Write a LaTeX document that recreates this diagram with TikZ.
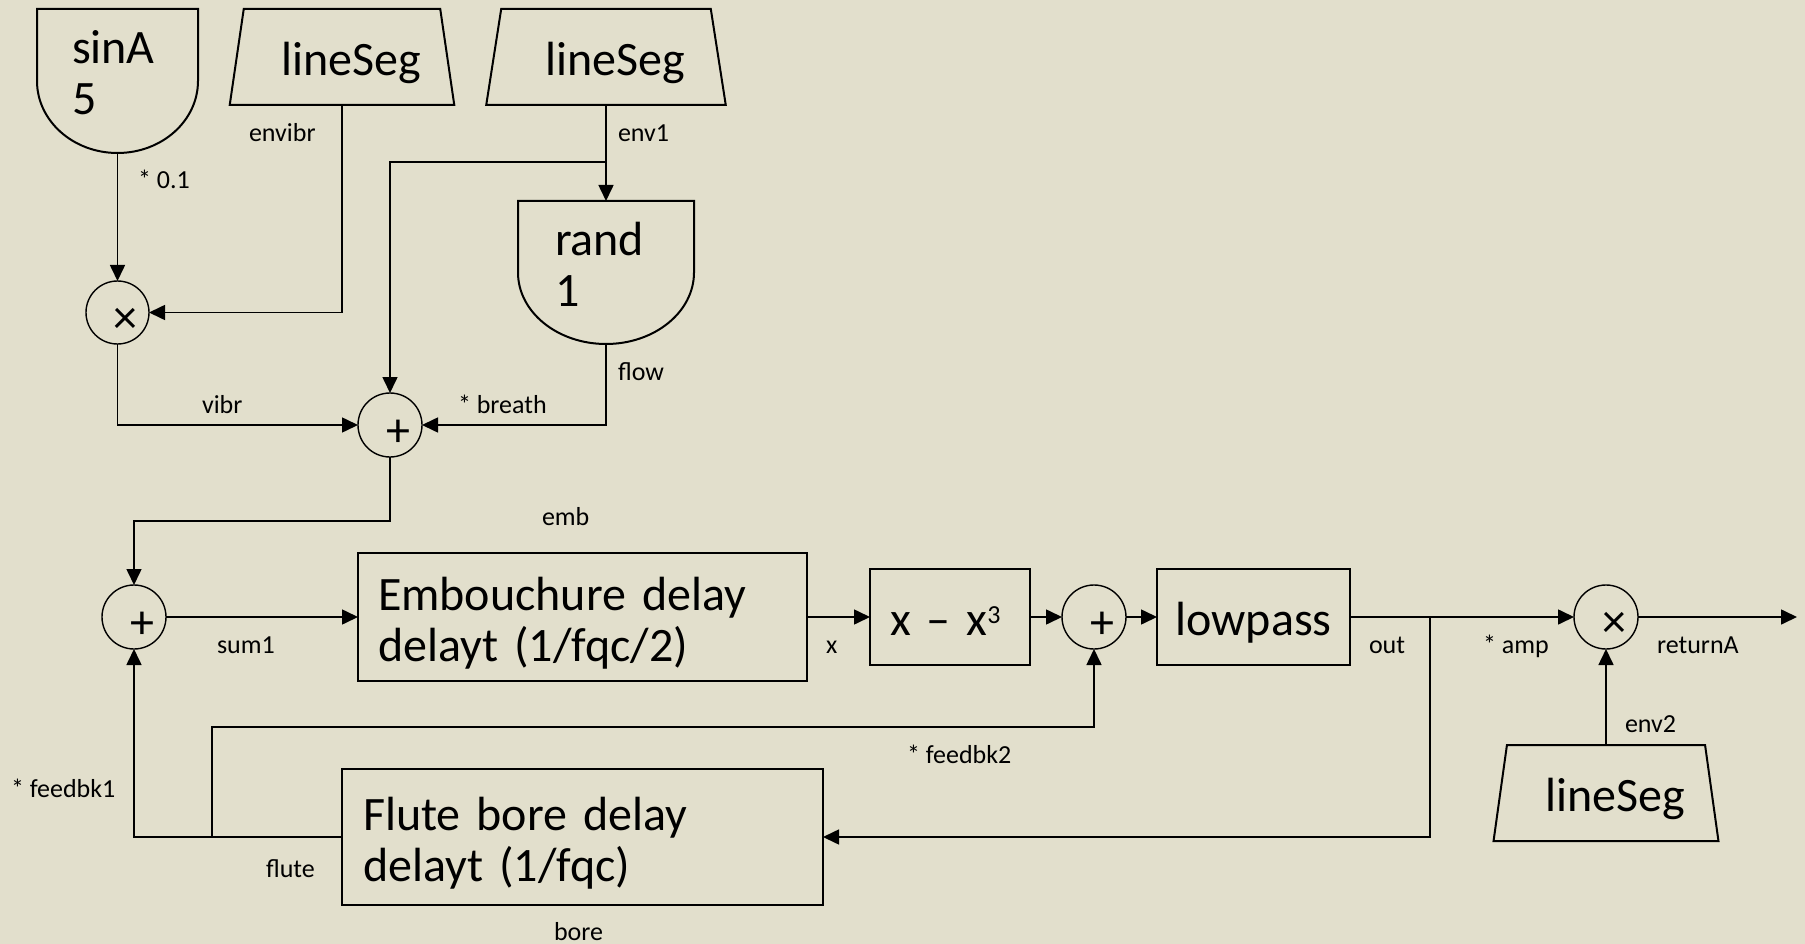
\documentclass[tikz,border=0pt]{standalone}
\usepackage{fontspec}
\setmainfont{Carlito}
\usetikzlibrary{shapes.geometric,arrows.meta,calc}
\definecolor{paper}{RGB}{226,223,204}

\begin{document}
\begin{tikzpicture}[
    x=1pt, y=-1pt,
    every node/.style={font=\fontsize{26}{30}\selectfont, inner sep=0pt, outer sep=0pt},
    big/.style={font=\fontsize{48}{51}\selectfont},
    lbl/.style={anchor=base west},
    plain/.style={line width=1.6pt},
    wire/.style={line width=1.6pt, -{Triangle[length=16pt,width=15pt]}},
    rim/.style={line width=2pt},
    dbox/.style={big, rectangle, align=left, text height=0pt, text depth=34pt},
    seg/.style={big, trapezium, draw, line width=2pt, trapezium stretches=true,
        trapezium left angle=73.5, trapezium right angle=73.5,
        minimum width=225pt, minimum height=96pt, text height=38pt, text depth=0pt,
        execute at begin node=\hspace*{18pt}},
    proc/.style={big, rectangle, draw, line width=2pt},
    op/.style={circle, draw, line width=1.4pt, minimum size=64pt},
    opsym/.style={big, xshift=8pt, yshift=-8pt},
    sumop/.style={op, label={[opsym]center:+}},
    mulop/.style={op, label={[opsym]center:×}}
]
\useasboundingbox (0,0) rectangle (1805,944);
\fill[paper] (0,0) rectangle (1805,944);

% sources
\node[dbox, minimum width=161pt, minimum height=144pt, text width=91pt, inner xsep=35pt] (sinA) at (117.5,81) {sinA\\5};
\draw[rim] (sinA.north west) -- (sinA.west) arc[start angle=180, end angle=360, x radius=80.5pt, y radius=72pt] -- (sinA.north east) -- cycle;
\node[seg] (segvib) at (342,57) {lineSeg};
\node[seg, minimum width=240pt] (segenv) at (606,57) {lineSeg};
\node[dbox, minimum width=176pt, minimum height=143pt, text width=102pt, inner xsep=37pt, text depth=33pt] (rand) at (606,272.5) {rand\\1};
\draw[rim] (rand.north west) -- (rand.west) arc[start angle=180, end angle=360, x radius=88pt, y radius=71.5pt] -- (rand.north east) -- cycle;

\node[mulop, minimum size=63pt] (mulvib) at (117.5,312.5) {};
\node[sumop] (sumemb) at (390,425) {};
\node[sumop] (sumin) at (134,617) {};

% main chain
\node[proc, minimum width=449pt, minimum height=128pt, text width=409pt, inner xsep=20pt, align=left, text height=0pt, text depth=14pt] (emb) at (582.5,617) {Embouchure delay\\delayt (1/fqc/2)};
\node[proc, minimum width=160pt, minimum height=96pt, text width=120pt, inner xsep=20pt, align=left, text height=36pt, text depth=0pt] (cube) at (950,617) {x – x\raisebox{12pt}{\fontsize{26}{26}\selectfont 3}};
\node[sumop] (sumfb) at (1094,617) {};
\node[proc, minimum width=193pt, minimum height=96pt, text height=36pt, text depth=0pt] (lowpass) at (1253.5,617) {lowpass};
\node[mulop] (mulamp) at (1606,617) {};
\node[seg, text height=36pt] (segamp) at (1606,793) {lineSeg};
\node[proc, minimum width=481pt, minimum height=136pt, text width=439pt, inner xsep=21pt, align=left, text height=0pt, text depth=14pt] (bore) at (582.5,837) {Flute bore delay\\delayt (1/fqc)};

\coordinate (envtap) at (606,162);
\coordinate (outtap) at (1430,617);
\coordinate (flutetap) at (212,837);
\coordinate (result) at (1797,617);

\draw[wire] (sinA.south) -- (mulvib.north);
\draw[wire] (segvib.south) |- (mulvib.east);
\draw[wire] (segenv.south) -- (rand.north);
\draw[wire] (envtap) -| (sumemb.north);
\draw[wire] (mulvib.south) |- (sumemb.west);
\draw[wire] (rand.south) |- (sumemb.east);
\draw[wire] (sumemb.south) -- ++(0,64) -| (sumin.north);
\draw[wire] (sumin.east) -- (emb.west);
\draw[wire] (emb.east) -- (cube.west);
\draw[wire] (cube.east) -- (sumfb.west);
\draw[wire] (sumfb.east) -- (lowpass.west);
\draw[wire] (lowpass.east) -- (mulamp.west);
\draw[wire] (mulamp.east) -- (result);
\draw[wire] (segamp.north) -- (mulamp.south);
\draw[wire] (outtap) |- (bore.east);
\draw[wire] (bore.west) -| (sumin.south);
\draw[wire] (flutetap) -- ++(0,-110) -| (sumfb.south);

% signal names
\node[lbl] (l-scale) at (138,189) {* 0.1};
\node[lbl] (l-envibr) at (249,142) {envibr};
\node[lbl] (l-env1) at (618,142) {env1};
\node[lbl] (l-flow) at (618,380) {flow};
\node[lbl] (l-vibr) at (202,413) {vibr};
\node[lbl] (l-breath) at (458,413) {* breath};
\node[lbl] (l-emb) at (542,525) {emb};
\node[lbl] (l-sum1) at (217,653) {sum1};
\node[lbl] (l-x) at (826,653) {x};
\node[lbl] (l-out) at (1369,653) {out};
\node[lbl] (l-amp) at (1483,653) {* amp};
\node[lbl] (l-ret) at (1657,653) {returnA};
\node[lbl] (l-env2) at (1625,732) {env2};
\node[lbl] (l-fb2) at (907,763) {* feedbk2};
\node[lbl] (l-fb1) at (11,797) {* feedbk1};
\node[lbl] (l-flute) at (266,877) {flute};
\node[lbl] (l-bore) at (554,940) {bore};

\end{tikzpicture}
\end{document}
